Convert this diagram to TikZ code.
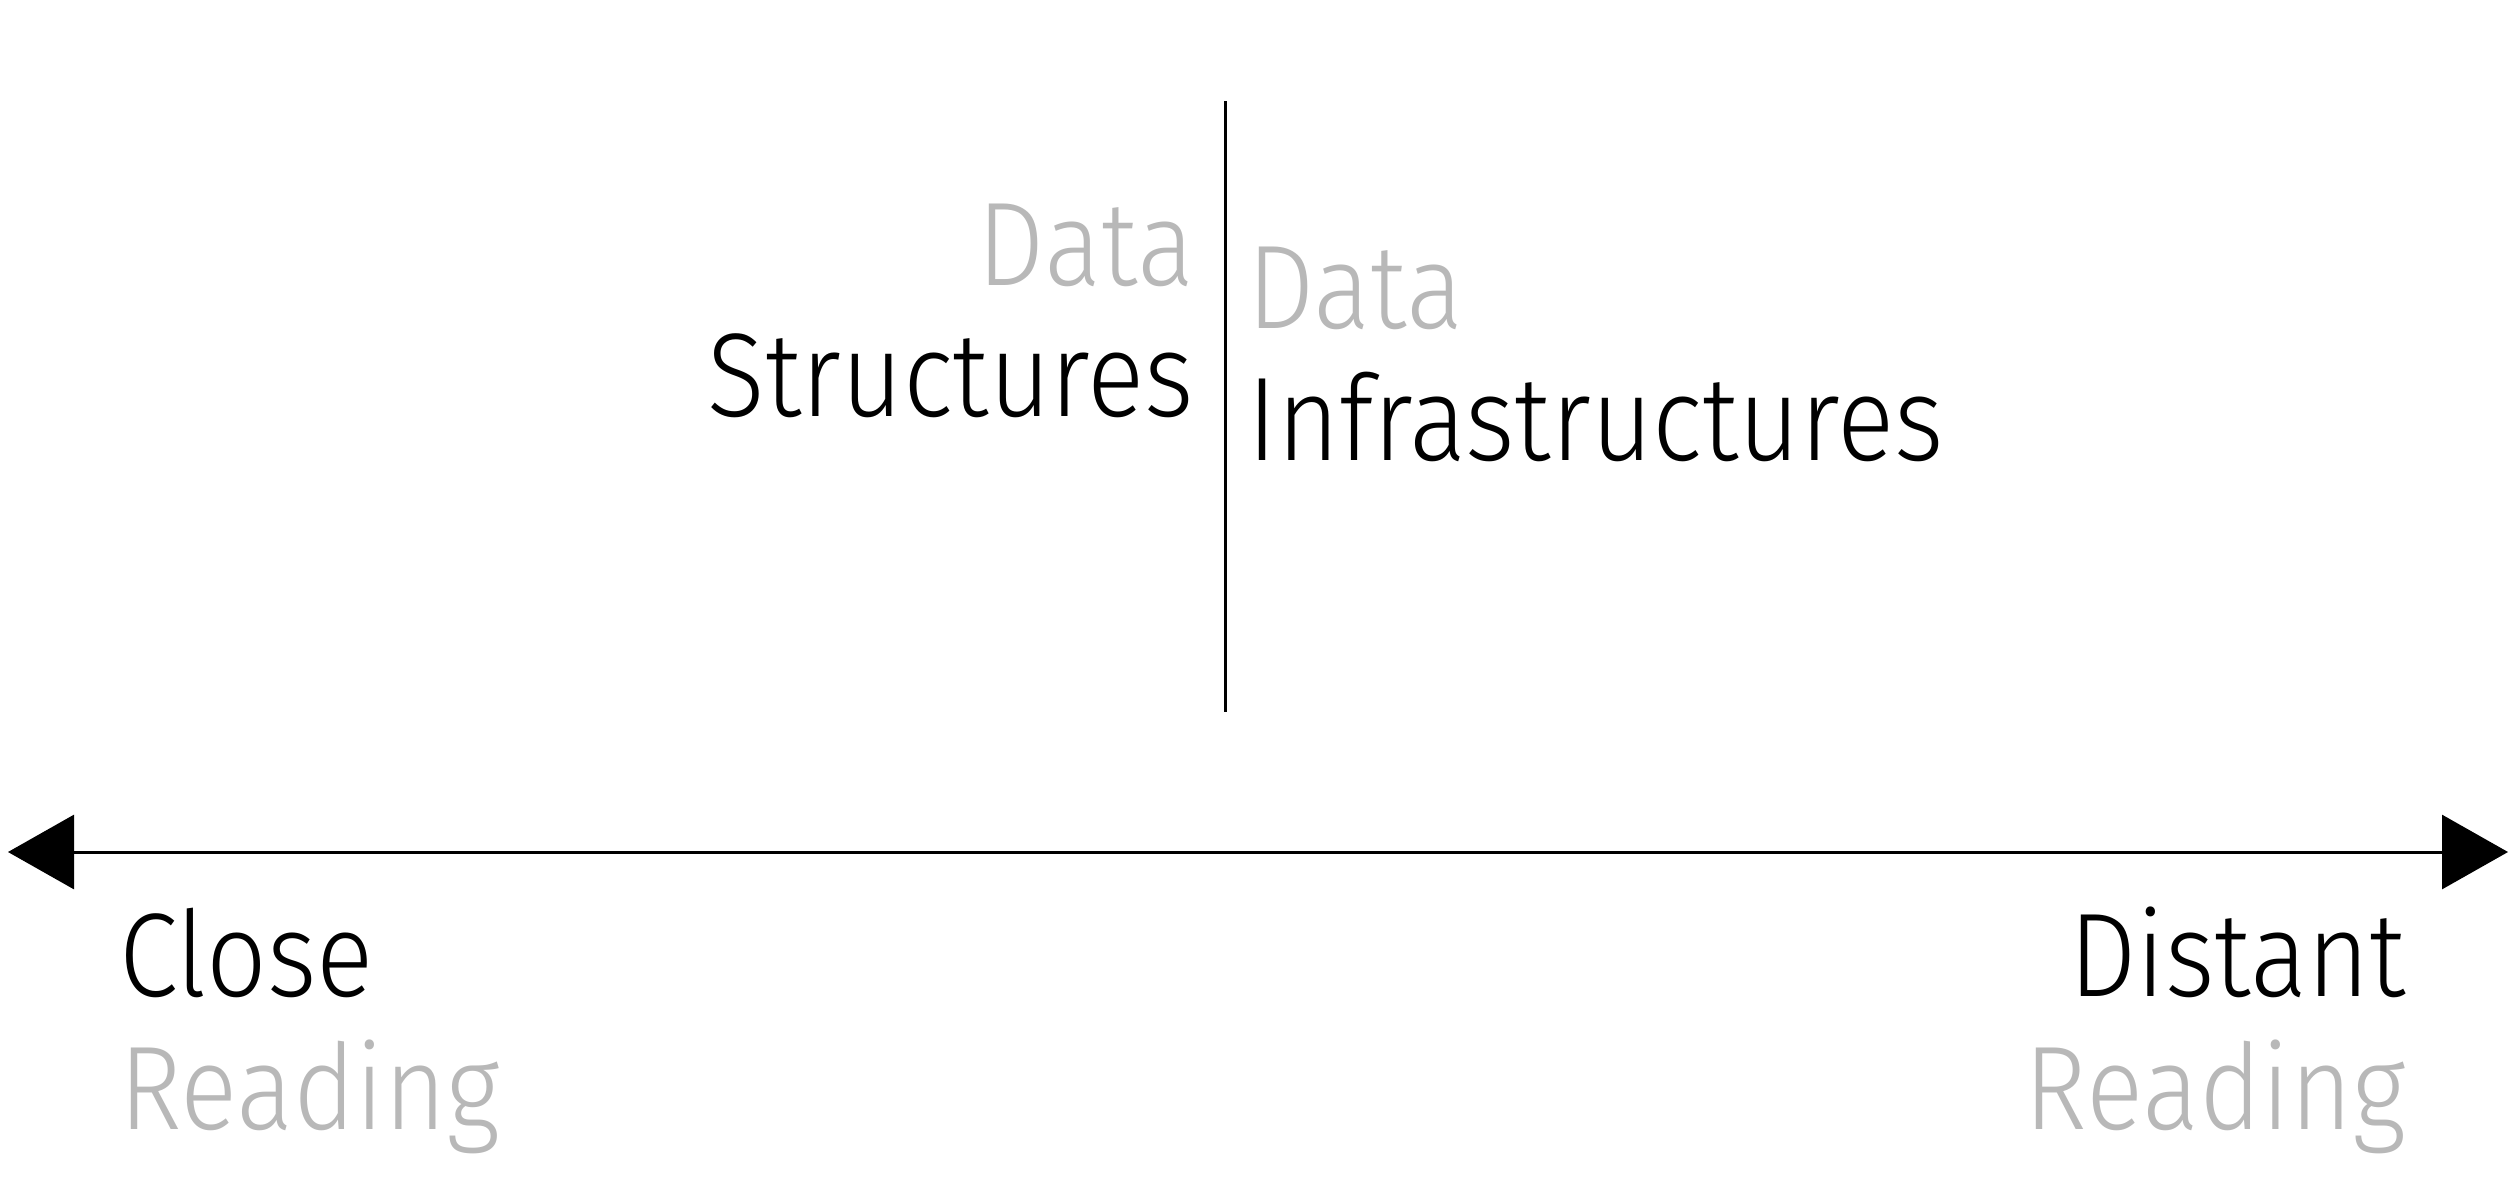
\documentclass[tikz,border=0pt]{standalone}
\usepackage{fontspec}
\usepackage{graphicx}
\setmainfont{Fira Sans Light}
\usetikzlibrary{arrows.meta}
\definecolor{lightgraytext}{RGB}{184,184,184}
\newcommand\narrowtxt[1]{\scalebox{0.895}[1.0]{#1}}
\tikzset{
  lbl/.style={inner sep=0pt, outer sep=0pt, font=\fontsize{119}{133}\selectfont},
  blacktxt/.style={lbl, text=black},
  graytxt/.style={lbl, text=lightgraytext},
  rule/.style={line width=3pt, draw=black}
}
\begin{document}
\begin{tikzpicture}[x=1pt,y=-1pt]
\useasboundingbox (0,0) rectangle (2511,1203);
% vertical divider
\coordinate (vtop) at (1225,101);
\coordinate (vbot) at (1225,712);
\draw[rule] (vtop) -- (vbot);
% axis
\coordinate (aleft) at (8,852);
\coordinate (aright) at (2508,852);
\draw[rule, {Triangle[length=66pt,width=74pt]}-{Triangle[length=66pt,width=74pt]}] (aleft) -- (aright);
% upper texts
\node[graytxt, anchor=base east] (d1) at (1194,285) {\narrowtxt{Data}};
\node[blacktxt, anchor=base east] (s1) at (1194,416) {\narrowtxt{Structures}};
\node[graytxt, anchor=base west] (d2) at (1247,328) {\narrowtxt{Data}};
\node[blacktxt, anchor=base west] (i2) at (1247,460) {\narrowtxt{Infrastructures}};
% lower texts
\node[blacktxt, anchor=base west] (close) at (119,996) {\narrowtxt{Close}};
\node[graytxt, anchor=base west] (cread) at (119,1129) {\narrowtxt{Reading}};
\node[blacktxt, anchor=base east] (dist) at (2406,996) {\narrowtxt{Distant}};
\node[graytxt, anchor=base east] (dread) at (2406,1129) {\narrowtxt{Reading}};
\end{tikzpicture}
\end{document}
